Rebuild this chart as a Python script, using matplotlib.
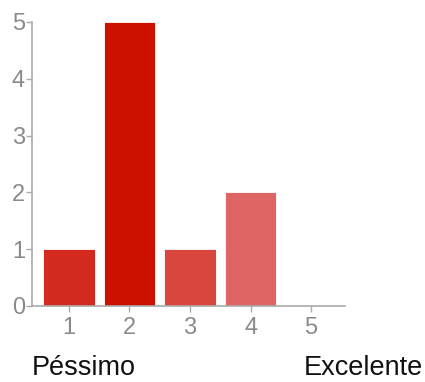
import numpy as np
import matplotlib.pyplot as plt

plt.rcParams['font.family'] = ['Liberation Sans', 'DejaVu Sans']

ratings = [1, 2, 3, 4, 5]
counts = [1, 5, 1, 2, 0]
bar_colors = ['#d42a1e', '#cc1100', '#d8463e', '#de6564', '#e88888']
low_label = 'Péssimo'
high_label = 'Excelente'

fig = plt.figure(figsize=(4.25, 3.82), dpi=100)
ax = fig.add_axes([0.0753, 0.199, 0.7365, 0.7435])

ax.bar(ratings, counts, width=0.85, color=bar_colors, edgecolor='white', linewidth=0.6)

ax.set_xlim(0.39, 5.56)
ax.set_ylim(0, 5)
ax.set_xticks(ratings)
ax.set_yticks(range(0, 6))

for side in ['top', 'right']:
    ax.spines[side].set_visible(False)
for side in ['left', 'bottom']:
    ax.spines[side].set_color('#aaaaaa')
    ax.spines[side].set_linewidth(1.2)

ax.tick_params(axis='both', colors='#aaaaaa', labelcolor='#8a8a8a', labelsize=17, length=4, width=1)
ax.tick_params(axis='x', pad=4)
ax.tick_params(axis='y', pad=1)

fig.text(32 / 425, 0.037, low_label, ha='left', va='center', fontsize=19.5, color='#111111')
fig.text(423 / 425, 0.037, high_label, ha='right', va='center', fontsize=19.5, color='#111111')

fig.savefig('out.png', dpi=100)
